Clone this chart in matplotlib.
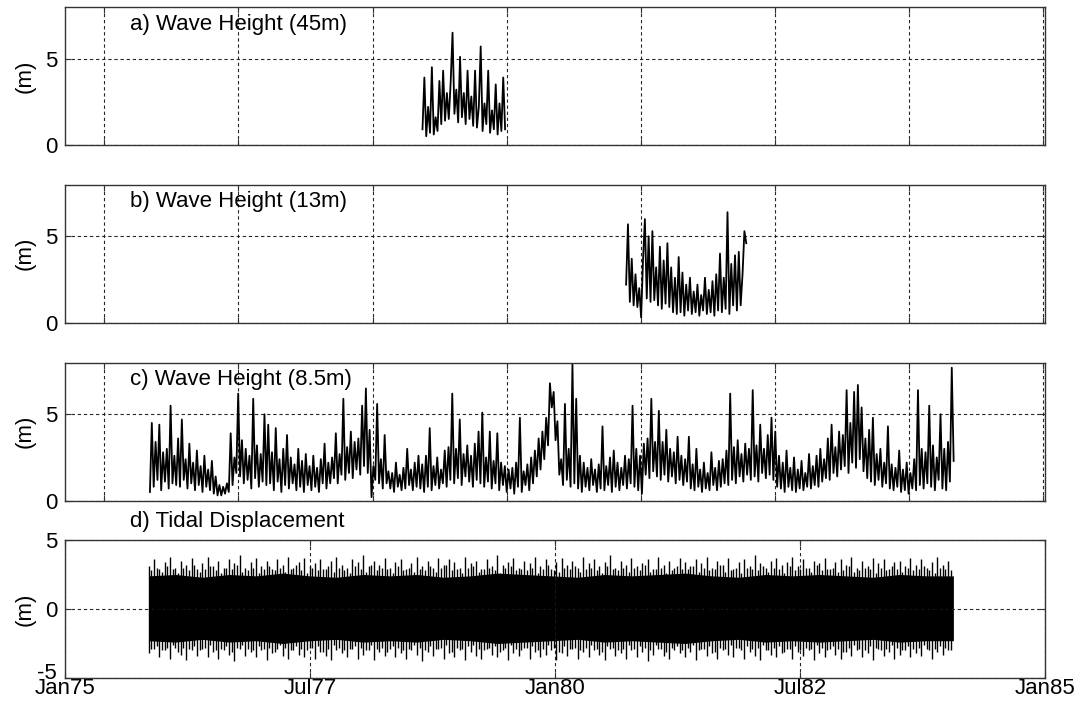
import numpy as np
import matplotlib.pyplot as plt
import matplotlib.transforms as mtransforms

plt.rcParams['font.family'] = ['Liberation Sans', 'DejaVu Sans']
plt.rcParams['font.size'] = 16
plt.rcParams['axes.unicode_minus'] = False

## wave heights, one value every 7 days (m)
wave_step = 7

a_start = '1978-08-24'
a_hs = [0.9, 3.9, 0.5, 2.2, 0.7, 4.5, 0.6, 1.6, 0.8, 3.7, 1.2, 4.3, 1.4, 3.0, 1.5, 3.6,
        6.5, 1.8, 3.2, 1.3, 5.1, 1.6, 3.0, 1.2, 4.3, 1.5, 2.8, 1.1, 4.3, 1.0, 2.2, 5.7,
        0.8, 2.4, 1.2, 4.3, 0.7, 2.0, 0.9, 3.5, 0.6, 2.4, 0.8, 3.9, 0.9]

b_start = '1980-09-21'
b_hs = [2.2, 5.7, 1.2, 3.7, 1.0, 2.8, 0.9, 2.0, 0.3, 3.6, 6.0, 1.4, 5.0, 1.2, 5.3, 1.3,
        3.2, 1.0, 4.4, 0.8, 3.6, 1.1, 4.6, 0.9, 3.2, 0.6, 2.6, 0.5, 3.8, 0.6, 2.9, 0.4,
        2.2, 0.7, 2.6, 0.5, 1.8, 0.6, 2.2, 0.4, 1.6, 0.7, 2.6, 0.5, 1.9, 0.6, 2.4, 0.4,
        2.8, 0.7, 4.0, 0.6, 2.6, 0.8, 6.4, 0.5, 3.4, 1.0, 3.9, 0.7, 4.1, 1.0, 2.8, 5.3, 4.6]

c_start = '1975-11-12'
c_hs = [0.5, 4.5, 0.8, 3.4, 1.2, 4.4, 0.6, 2.8, 1.1, 3.0, 0.7, 5.5, 1.0, 2.6, 0.9, 3.6,
        0.8, 4.7, 1.2, 2.4, 0.7, 3.3, 1.0, 2.2, 0.6, 2.9, 0.9, 2.0, 0.5, 2.6, 0.8, 1.8,
        0.6, 2.3, 0.4, 1.4, 0.3, 0.9, 0.3, 0.8, 0.4, 1.0, 0.5, 3.9, 0.9, 2.5, 1.6, 6.2,
        1.4, 3.5, 1.0, 3.0, 1.2, 2.6, 0.7, 5.9, 1.3, 3.2, 0.8, 2.7, 1.1, 5.0, 0.9, 4.4,
        1.0, 2.8, 0.6, 4.2, 1.1, 2.4, 0.5, 3.0, 0.9, 3.8, 0.7, 2.5, 1.0, 2.1, 0.6, 3.0,
        0.8, 2.3, 0.5, 2.7, 0.9, 2.0, 0.6, 2.6, 0.8, 1.9, 0.5, 2.4, 1.0, 3.3, 0.7, 2.2,
        1.0, 2.5, 1.3, 3.9, 1.0, 2.7, 1.5, 5.9, 1.2, 3.1, 1.6, 4.0, 1.3, 3.4, 1.8, 3.6,
        1.5, 5.5, 2.0, 6.5, 1.6, 4.1, 0.2, 2.0, 1.2, 5.6, 1.0, 2.4, 0.7, 3.8, 1.0, 1.7,
        0.7, 1.6, 0.5, 2.2, 0.8, 1.5, 0.6, 1.9, 0.7, 3.0, 0.9, 1.8, 0.6, 2.2, 0.8, 2.6,
        0.7, 2.1, 0.5, 2.6, 0.8, 4.2, 0.6, 2.0, 0.9, 2.5, 0.7, 1.8, 1.0, 2.9, 0.8, 3.1,
        1.2, 6.2, 1.0, 3.0, 1.3, 4.7, 0.9, 2.7, 1.4, 3.2, 1.1, 2.6, 0.8, 3.3, 1.2, 4.0,
        1.0, 5.1, 0.8, 2.5, 1.1, 4.0, 0.7, 2.3, 1.0, 3.9, 0.6, 2.2, 0.9, 2.0, 0.5, 1.8,
        0.7, 1.9, 0.4, 2.2, 0.8, 4.8, 0.5, 1.7, 0.9, 2.1, 0.6, 2.5, 1.0, 2.9, 1.4, 3.6,
        1.8, 4.0, 2.4, 4.8, 3.2, 6.8, 5.4, 6.3, 3.5, 4.6, 1.5, 2.4, 0.9, 5.6, 1.2, 3.0,
        0.8, 7.9, 1.0, 5.9, 0.7, 2.6, 0.5, 2.2, 0.8, 1.9, 0.6, 2.4, 0.9, 1.8, 0.5, 2.1,
        0.7, 4.3, 0.6, 2.0, 0.9, 2.5, 0.5, 2.9, 0.8, 2.2, 0.6, 1.9, 0.9, 2.6, 0.7, 2.4,
        1.0, 5.5, 0.8, 3.0, 0.6, 2.6, 0.4, 3.3, 1.5, 3.6, 1.3, 5.9, 1.7, 3.4, 1.4, 5.2,
        1.2, 3.4, 1.5, 4.1, 1.1, 3.0, 1.4, 2.8, 1.0, 3.7, 1.2, 2.6, 0.9, 2.4, 1.1, 3.7,
        0.7, 2.1, 0.6, 3.0, 0.8, 1.8, 0.5, 2.2, 0.7, 1.6, 0.6, 2.8, 0.9, 1.9, 0.6, 2.3,
        0.8, 2.4, 1.0, 2.9, 0.9, 6.2, 1.2, 3.1, 1.0, 3.5, 1.4, 2.7, 1.1, 3.3, 1.5, 3.0,
        1.2, 6.4, 1.4, 3.2, 1.1, 4.4, 1.6, 3.0, 1.3, 3.8, 1.5, 4.8, 1.2, 4.0, 0.8, 2.6,
        0.7, 2.2, 0.5, 2.9, 0.8, 1.9, 0.6, 2.5, 0.5, 1.8, 0.7, 2.3, 0.6, 1.6, 0.8, 2.7,
        0.7, 2.0, 0.9, 2.6, 0.8, 3.0, 1.1, 2.4, 1.3, 3.6, 1.2, 4.4, 1.6, 3.1, 1.4, 4.0,
        1.8, 3.8, 2.0, 6.4, 1.6, 4.5, 2.2, 6.3, 1.9, 6.7, 2.4, 5.4, 1.7, 3.6, 1.3, 4.1,
        1.1, 4.8, 0.9, 2.7, 1.2, 3.0, 0.8, 2.2, 1.0, 4.3, 0.7, 2.1, 0.6, 1.9, 0.8, 2.9,
        0.5, 1.8, 0.6, 2.2, 0.4, 1.6, 0.7, 2.4, 0.6, 6.4, 0.9, 3.0, 0.7, 2.8, 1.0, 5.5,
        0.8, 3.2, 0.6, 2.5, 1.2, 5.0, 0.7, 3.0, 0.6, 3.4, 1.1, 7.7, 2.3]

## tidal displacement (m): spring peaks every 20 days, neap peaks halfway between,
## solid core band every 100 days
tide_start = '1975-11-07'
tide_step = 20
tide_hi = [3.1, 3.6, 2.9, 3.4, 3.8, 3.0, 3.5, 3.2, 3.7, 2.9, 3.3, 3.8, 3.1, 3.5, 3.0, 3.6, 3.3, 3.9, 3.0, 3.4,
           3.7, 3.1, 3.5, 2.9, 3.6, 3.2, 3.8, 3.0, 3.4, 3.7, 3.1, 3.3, 3.6, 2.9, 3.5, 3.8, 3.2, 3.0, 3.6, 3.4,
           3.9, 3.1, 3.5, 3.2, 3.7, 3.0, 3.4, 3.6, 2.9, 3.3, 3.8, 3.1, 3.5, 3.0, 3.7, 3.2, 3.6, 3.4, 3.0, 3.8,
           3.3, 3.5, 2.9, 3.6, 3.1, 3.9, 3.2, 3.4, 3.7, 3.0, 3.5, 3.3, 3.8, 3.1, 3.6, 2.9, 3.4, 3.7, 3.2, 3.5,
           3.0, 3.8, 3.3, 3.6, 3.1, 3.4, 3.9, 3.0, 3.5, 3.2, 3.7, 3.1, 3.3, 3.6, 2.9, 3.8, 3.2, 3.5, 3.0, 3.7,
           3.4, 3.1, 3.6, 3.3, 3.8, 3.0, 3.5, 3.2, 3.7, 2.9, 3.4, 3.6, 3.1, 3.9, 3.3, 3.0, 3.5, 3.7, 3.2, 3.4,
           3.8, 3.1, 3.6, 3.0, 3.5, 3.3, 3.7, 2.9, 3.4, 3.6, 3.2, 3.8, 3.0, 3.5, 3.1, 3.7, 3.3, 3.6, 2.9, 3.4,
           3.5, 3.1, 3.7, 3.2, 3.6, 3.0, 3.4, 3.8, 3.2, 3.5]
tide_lo = [-3.2, -2.9, -3.5, -3.0, -3.6, -2.8, -3.3, -3.7, -3.0, -3.4, -2.9, -3.5, -3.1, -3.6, -3.0, -3.3, -3.8, -2.9, -3.4, -3.1,
           -3.5, -3.0, -3.7, -3.2, -2.9, -3.4, -3.6, -3.0, -3.3, -3.5, -2.8, -3.6, -3.1, -3.4, -3.7, -3.0, -3.2, -3.5, -2.9, -3.6,
           -3.3, -3.0, -3.7, -3.1, -3.4, -2.9, -3.5, -3.2, -3.6, -3.0, -3.3, -3.8, -3.1, -3.4, -2.9, -3.6, -3.2, -3.5, -3.0, -3.7,
           -3.1, -3.4, -3.6, -2.9, -3.3, -3.5, -3.0, -3.7, -3.2, -3.4, -2.8, -3.6, -3.1, -3.5, -3.3, -3.0, -3.7, -3.2, -3.4, -2.9,
           -3.6, -3.1, -3.5, -3.0, -3.3, -3.7, -2.9, -3.4, -3.2, -3.6, -3.0, -3.5, -3.1, -3.8, -3.3, -2.9, -3.4, -3.6, -3.0, -3.2,
           -3.5, -3.1, -3.7, -2.9, -3.4, -3.2, -3.6, -3.0, -3.3, -3.5, -2.8, -3.6, -3.1, -3.4, -3.7, -3.0, -3.3, -3.5, -3.2, -2.9,
           -3.6, -3.1, -3.4, -3.0, -3.7, -3.2, -3.5, -2.9, -3.3, -3.6, -3.1, -3.4, -3.0, -3.5, -3.2, -3.7, -2.9, -3.4, -3.1, -3.6,
           -3.3, -3.0, -3.5, -3.2, -3.4, -2.9, -3.6, -3.1, -3.3, -3.0]
neap_start = '1975-11-17'
neap_hi = [2.8, 3.0, 2.7, 3.1, 2.9, 2.6, 3.0, 2.8, 3.2, 2.7, 2.9, 3.1, 2.8, 2.6, 3.0, 2.9, 3.2, 2.7, 2.8, 3.0,
           2.6, 2.9, 3.1, 2.8, 3.0, 2.7, 2.9, 3.2, 2.8, 2.6, 3.0, 2.8, 2.9, 3.1, 2.7, 3.0, 2.8, 2.6, 3.1, 2.9,
           2.7, 3.2, 2.8, 3.0, 2.9, 2.6, 3.1, 2.8, 3.0, 2.7, 2.9, 2.8, 3.1, 2.7, 3.0, 3.2, 2.8, 2.9, 2.6, 3.0,
           3.1, 2.7, 2.9, 3.0, 2.8, 2.6, 3.0, 3.1, 2.8, 2.9, 2.8, 3.0, 2.6, 2.9, 3.2, 2.8, 2.7, 3.0, 2.9, 3.1,
           2.7, 2.9, 3.0, 2.8, 2.6, 3.1, 2.9, 2.8, 3.0, 2.7, 3.0, 2.8, 3.2, 2.7, 2.9, 3.0, 2.6, 2.8, 3.1, 2.9,
           2.9, 3.1, 2.7, 3.0, 2.8, 2.9, 3.2, 2.7, 2.8, 3.0, 2.6, 3.0, 2.9, 2.8, 3.1, 2.7, 3.0, 2.9, 2.6, 3.1,
           2.8, 2.9, 3.0, 2.7, 3.2, 2.8, 2.9, 3.0, 2.7, 2.8, 3.1, 2.7, 2.8, 3.0, 2.9, 2.6, 3.0, 2.8, 3.1, 2.9,
           2.7, 3.0, 2.8, 2.9, 3.1, 2.8, 2.6, 3.0, 2.9, 2.8]
neap_lo = [-2.9, -2.7, -3.0, -2.8, -2.6, -3.1, -2.8, -2.9, -2.7, -3.0, -2.8, -2.6, -3.0, -2.9, -2.7, -3.1, -2.8, -2.6, -2.9, -3.0,
           -2.7, -2.9, -2.8, -3.1, -2.6, -2.8, -3.0, -2.7, -2.9, -3.0, -2.8, -2.7, -3.1, -2.9, -2.6, -2.8, -3.0, -2.9, -2.7, -2.8,
           -3.0, -2.6, -2.9, -2.8, -3.1, -2.7, -2.8, -3.0, -2.9, -2.6, -2.8, -3.0, -2.7, -2.9, -2.8, -2.6, -3.1, -2.8, -2.9, -2.7,
           -2.6, -2.9, -3.0, -2.8, -2.7, -3.1, -2.8, -2.6, -2.9, -3.0, -2.8, -2.7, -3.0, -2.9, -2.6, -2.8, -3.1, -2.7, -2.9, -2.8,
           -3.0, -2.8, -2.6, -2.9, -3.1, -2.7, -2.8, -3.0, -2.9, -2.6, -2.9, -2.7, -2.8, -3.0, -2.6, -2.9, -3.1, -2.8, -2.7, -3.0,
           -2.8, -2.6, -3.0, -2.9, -2.7, -3.1, -2.8, -2.9, -2.6, -2.8, -3.0, -2.7, -2.9, -2.8, -2.6, -3.0, -2.8, -2.7, -3.1, -2.9,
           -2.7, -3.0, -2.8, -2.9, -2.6, -2.8, -3.0, -2.7, -2.9, -3.1, -2.8, -2.6, -2.9, -3.0, -2.7, -2.8, -3.0, -2.9, -2.6, -2.8,
           -3.0, -2.7, -2.9, -2.8, -2.6, -3.0, -2.9, -2.7, -2.8, -3.0]
core_step = 100
core_hi = [2.4, 2.5, 2.3, 2.5, 2.4, 2.6, 2.4, 2.3, 2.5, 2.4, 2.5, 2.3, 2.4, 2.6, 2.5, 2.4,
           2.3, 2.5, 2.4, 2.5, 2.6, 2.4, 2.3, 2.5, 2.4, 2.5, 2.4, 2.3, 2.5, 2.4, 2.4]
core_lo = [-2.3, -2.4, -2.2, -2.4, -2.3, -2.5, -2.3, -2.2, -2.4, -2.3, -2.4, -2.2, -2.3, -2.5, -2.4, -2.3,
           -2.2, -2.4, -2.3, -2.4, -2.5, -2.3, -2.2, -2.4, -2.3, -2.4, -2.3, -2.2, -2.4, -2.3, -2.3]

titles = ['a) Wave Height (45m)', 'b) Wave Height (13m)', 'c) Wave Height (8.5m)', 'd) Tidal Displacement']
date_ticks = ['1975-01-01', '1977-07-01', '1980-01-01', '1982-07-01', '1985-01-01']
date_labels = ['Jan75', 'Jul77', 'Jan80', 'Jul82', 'Jan85']


def times(start, n, step):
    return np.datetime64(start) + np.arange(n) * np.timedelta64(step, 'D')


t0 = np.datetime64('1975-01-01')
t1 = np.datetime64('1985-01-01')
# matlab datenum ticks every 500 days (721500, 722000, ...)
num_ticks = t0 + np.arange(145, 3654, 500) * np.timedelta64(1, 'D')

fig = plt.figure(figsize=(10.85, 7.01), dpi=100)
bottoms = [0.7934, 0.5398, 0.2859, 0.0328]
axs = [fig.add_axes([0.0603, b, 0.9032, 0.1969]) for b in bottoms]

waves = [(a_start, a_hs), (b_start, b_hs), (c_start, c_hs)]
for ax, (start, hs) in zip(axs[:3], waves):
    ax.plot(times(start, len(hs), wave_step), hs, color='k', lw=1.3)
    ax.set_ylim(0, 8)
    ax.set_yticks([0, 5])
    ax.set_xticks(num_ticks)
    ax.tick_params(labelbottom=False)

ax = axs[3]
ax.fill_between(times(tide_start, len(core_hi), core_step), core_lo, core_hi, color='k', lw=0)
ax.vlines(times(tide_start, len(tide_hi), tide_step), tide_lo, tide_hi, color='k', lw=1.0)
ax.vlines(times(neap_start, len(neap_hi), tide_step), neap_lo, neap_hi, color='k', lw=1.0)
ax.set_ylim(-5, 5)
ax.set_yticks([-5, 0, 5])
ax.set_xticks(np.array(date_ticks, dtype='datetime64[D]'))
ax.set_xticklabels(date_labels)

for i, ax in enumerate(axs):
    ax.set_xlim(t0, t1)
    ax.grid(True, color='0.15', lw=0.8, linestyle=(0, (3, 2.5)))
    ax.tick_params(direction='in', top=True, right=True, length=4, width=0.8,
                   color='0.2', pad=6)
    ax.tick_params(axis='x', pad=0)
    for s in ax.spines.values():
        s.set_color('0.2')
        s.set_linewidth(1.0)
    ax.set_ylabel('(m)')
    ax.yaxis.set_label_coords(-0.030, 0.5)
    ty = 1.135 if i == 3 else 0.875
    ax.text(0.066, ty, titles[i], transform=ax.transAxes, va='center', ha='left')

# lift the bottom "-5" a little so it sits above Jan75, as in matlab
fig.canvas.draw()
lab = axs[3].get_yticklabels()[0]
lab.set_transform(lab.get_transform() + mtransforms.ScaledTranslation(0, 5 / 72, fig.dpi_scale_trans))

plt.savefig('out.png', dpi=100)
